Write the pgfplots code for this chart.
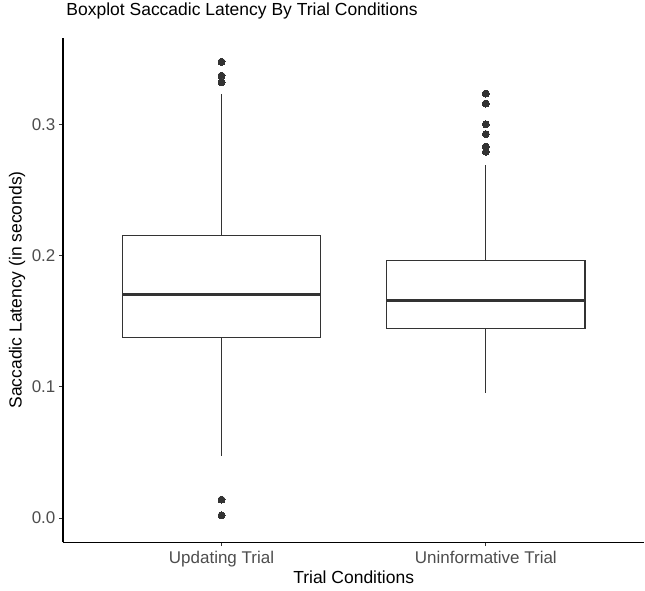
\documentclass[border=0pt]{standalone}
\usepackage{fontspec}
\setmainfont{Liberation Sans}
\usepackage{pgfplots}
\pgfplotsset{compat=1.18}

\definecolor{gray20}{HTML}{333333}
\definecolor{gray30}{HTML}{4D4D4D}

% Five-number summaries: position, lower whisker, Q1, median, Q3, upper whisker
% Updating Trial      : 1, 0.0474, 0.1375, 0.170, 0.2155, 0.323
% Uninformative Trial : 2, 0.0956, 0.1444, 0.166, 0.1964, 0.269

\begin{document}
\begin{tikzpicture}
\begin{axis}[
  scale only axis,
  width=582pt, height=505pt,
  xmin=0.4, xmax=2.6,
  ymin=-0.0184, ymax=0.366,
  axis x line=bottom, axis y line=left,
  axis line style={-, black, line width=1.2pt},
  xtick={1,2},
  xticklabels={Updating Trial, Uninformative Trial},
  ytick={0,0.1,0.2,0.3},
  yticklabel style={/pgf/number format/.cd, fixed, fixed zerofill, precision=1},
  /pgf/number format/assume math mode=true,
  tick align=outside,
  major tick length=4pt,
  tick style={gray20, line width=1pt},
  ticklabel style={font=\fontsize{17}{20}\selectfont, text=gray30},
  xticklabel style={yshift=-1pt},
  xlabel={Trial Conditions},
  ylabel={Saccadic Latency (in seconds)},
  xlabel style={at={(axis description cs:0.5,-0.07)}, anchor=center, font=\fontsize{17.5}{20}\selectfont},
  ylabel style={at={(axis description cs:-0.079,0.5)}, anchor=center, font=\fontsize{17.5}{20}\selectfont},
  title={Boxplot Saccadic Latency By Trial Conditions},
  title style={at={(axis description cs:0,1.04)}, anchor=west, font=\fontsize{17.5}{20}\selectfont},
  every axis plot/.append style={line width=1.3pt, draw=gray20, line join=miter},
]
% ---- Updating Trial (box half-width 0.375) ----
\addplot[forget plot] coordinates {(1,0.2155) (1,0.323)};
\addplot[forget plot] coordinates {(1,0.0474) (1,0.1375)};
\addplot[fill=white, forget plot] coordinates
  {(0.625,0.1375) (1.375,0.1375) (1.375,0.2155) (0.625,0.2155)} -- cycle;
\addplot[line width=3pt, forget plot] coordinates {(0.625,0.170) (1.375,0.170)};
\addplot[only marks, mark=*, mark size=3.5pt, mark options={draw=gray20, fill=gray20, line width=0pt}, forget plot]
  coordinates {(1,0.3476) (1,0.337) (1,0.332) (1,0.014) (1,0.002)};
% ---- Uninformative Trial ----
\addplot[forget plot] coordinates {(2,0.1964) (2,0.269)};
\addplot[forget plot] coordinates {(2,0.0956) (2,0.1444)};
\addplot[fill=white, forget plot] coordinates
  {(1.625,0.1444) (2.375,0.1444) (2.375,0.1964) (1.625,0.1964)} -- cycle;
\addplot[line width=3pt, forget plot] coordinates {(1.625,0.166) (2.375,0.166)};
\addplot[only marks, mark=*, mark size=3.5pt, mark options={draw=gray20, fill=gray20, line width=0pt}, forget plot]
  coordinates {(2,0.3234) (2,0.3158) (2,0.300) (2,0.2925) (2,0.283) (2,0.279)};
\end{axis}
% canvas margins around the panel
\path (-63pt,-48pt) rectangle (582pt,540pt);
\end{tikzpicture}
\end{document}
